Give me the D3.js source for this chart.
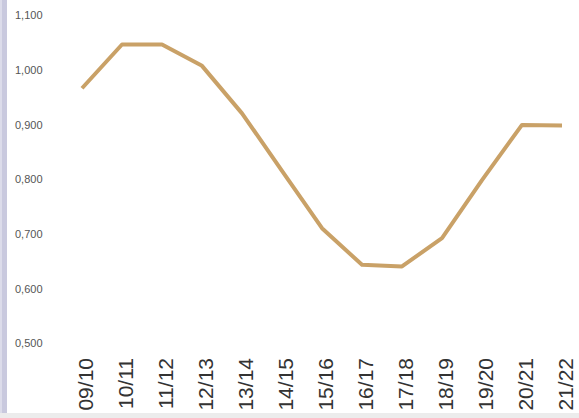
<!DOCTYPE html>
<html><head><meta charset="utf-8">
<script src="https://cdn.jsdelivr.net/npm/d3@7"></script>
<style>html,body{margin:0;padding:0;background:#fff;}svg{display:block;}</style>
</head><body>
<svg id="chart" width="579" height="418"></svg>
<script>
const categories = ["09/10","10/11","11/12","12/13","13/14","14/15","15/16","16/17","17/18","18/19","19/20","20/21","21/22"];
const values = [0.966, 1.046, 1.046, 1.007, 0.920, 0.815, 0.710, 0.643, 0.640, 0.692, 0.798, 0.899, 0.898];
const yTicks = [0.5, 0.6, 0.7, 0.8, 0.9, 1.0, 1.1];

const svg = d3.select("#chart");
const W = 579, H = 418;

svg.append("rect").attr("x",0).attr("y",0).attr("width",W).attr("height",H).attr("fill","#fff");
// scan edges
svg.append("rect").attr("x",0).attr("y",0).attr("width",7).attr("height",H).attr("fill","#c9c9de");
svg.append("rect").attr("x",0).attr("y",0).attr("width",2).attr("height",H).attr("fill","#dcdcea");
svg.append("rect").attr("x",0).attr("y",413).attr("width",W).attr("height",5).attr("fill","#ececec");

const x = d3.scalePoint().domain(categories).range([82, 562]);
const y = d3.scaleLinear().domain([0.5, 1.1]).range([343, 15]);

const fmt = v => d3.format(".3f")(v).replace(".", ",");

// y labels
const yAxis = d3.axisLeft(y).tickValues(yTicks).tickFormat(fmt).tickSize(0);
const gy = svg.append("g").attr("transform","translate(15,0)").call(yAxis);
gy.select(".domain").remove();
gy.selectAll("text")
  .attr("text-anchor","start").attr("x",0).attr("dy","0.35em")
  .attr("font-family","Liberation Sans, Arial, sans-serif")
  .attr("font-size","11px").attr("fill","#555");

// x labels
const xAxis = d3.axisBottom(x).tickSize(0);
const gx = svg.append("g").attr("transform","translate(3,358)").call(xAxis);
gx.select(".domain").remove();
gx.selectAll("text")
  .attr("transform","rotate(-90)")
  .attr("text-anchor","end")
  .attr("x",0).attr("y",0).attr("dy","0.35em")
  .attr("font-family","Liberation Sans, Arial, sans-serif")
  .attr("font-size","21px").attr("fill","#333");

// line
const line = d3.line().x((d,i)=>x(categories[i])).y(d=>y(d));
svg.append("path").datum(values)
  .attr("d", line)
  .attr("fill","none")
  .attr("stroke","#c9a167")
  .attr("stroke-width",4)
  .attr("stroke-linejoin","round")
  .attr("stroke-linecap","butt");
</script>
</body></html>
